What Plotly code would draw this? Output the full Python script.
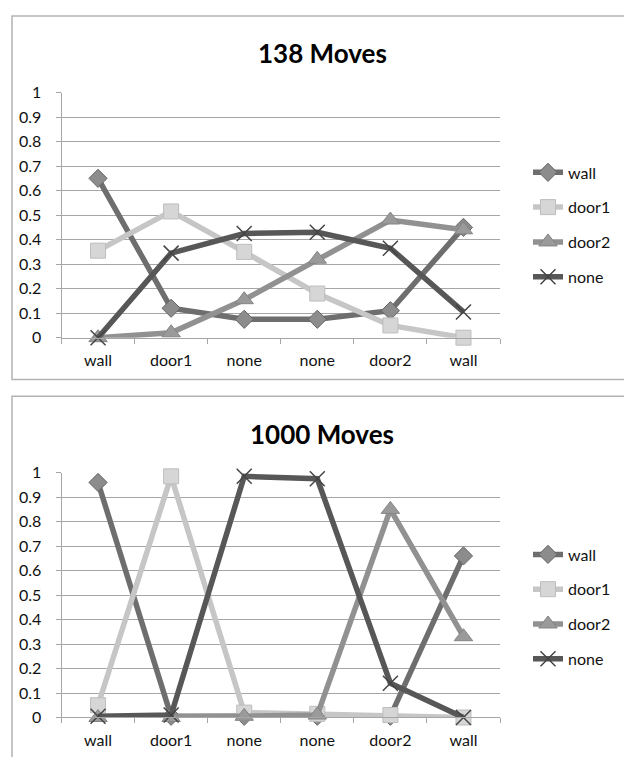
import plotly.graph_objects as go

# ---------------- data ----------------
categories = ["wall", "door1", "none", "none", "door2", "wall"]
series_names = ["wall", "door1", "door2", "none"]
y_ticks = [0, 0.1, 0.2, 0.3, 0.4, 0.5, 0.6, 0.7, 0.8, 0.9, 1]
y_tick_labels = ["0", "0.1", "0.2", "0.3", "0.4", "0.5", "0.6", "0.7", "0.8", "0.9", "1"]

title_top = "138 Moves"
wall_138 = [0.65, 0.12, 0.075, 0.075, 0.11, 0.45]
door1_138 = [0.355, 0.515, 0.35, 0.18, 0.05, 0.0]
door2_138 = [0.0, 0.02, 0.155, 0.32, 0.48, 0.44]
none_138 = [0.0, 0.345, 0.425, 0.43, 0.365, 0.105]

title_bottom = "1000 Moves"
wall_1000 = [0.96, 0.005, 0.005, 0.005, 0.005, 0.66]
door1_1000 = [0.05, 0.985, 0.02, 0.015, 0.01, 0.0]
door2_1000 = [0.0, 0.0, 0.005, 0.01, 0.85, 0.33]
none_1000 = [0.005, 0.01, 0.985, 0.975, 0.14, 0.0]

# ---------------- geometry / styles ----------------
PAGE_W, PAGE_H = 632, 765
BODY_MARGIN = 8                     # default browser body margin
W, H = PAGE_W - 2 * BODY_MARGIN, PAGE_H - 2 * BODY_MARGIN
FONT = "Lato, 'Open Sans', sans-serif"
GRID = "#a6a6a6"

styles = {
    "wall": dict(line=dict(color="#6e6e6e", width=5.5),
                 marker=dict(symbol="diamond", size=14, color="#8c8c8c",
                             line=dict(color="#656565", width=1))),
    "door1": dict(line=dict(color="#c6c6c6", width=5.5),
                  marker=dict(symbol="square", size=15, color="#d6d6d6",
                              line=dict(color="#bdbdbd", width=1))),
    "door2": dict(line=dict(color="#919191", width=5.5),
                  marker=dict(symbol="triangle-up", size=16, color="#9a9a9a",
                              line=dict(color="#858585", width=1))),
    "none": dict(line=dict(color="#575757", width=5.5),
                 marker=dict(symbol="x-thin", size=15, color="#444444",
                             line=dict(color="#444444", width=1.5))),
}

x_idx = list(range(len(categories)))


def px_x(p):  # page pixel -> paper fraction
    return (p - BODY_MARGIN) / W


def px_y(p):
    return 1 - (p - BODY_MARGIN) / H


fig = go.Figure()

panels = [
    ("x", "y", "legend", [wall_138, door1_138, door2_138, none_138]),
    ("x2", "y2", "legend2", [wall_1000, door1_1000, door2_1000, none_1000]),
]
for xa, ya, leg, vals in panels:
    for name, v in zip(series_names, vals):
        st = styles[name]
        fig.add_trace(go.Scatter(
            x=x_idx, y=v, name=name, mode="lines+markers",
            line=st["line"], marker=st["marker"],
            xaxis=xa, yaxis=ya, legend=leg, legendgroup=leg + name,
            cliponaxis=False, showlegend=True,
        ))

xdom = [px_x(61.5), px_x(500)]
xaxis_common = dict(
    range=[-0.5, len(categories) - 0.5],
    tickvals=x_idx, ticktext=categories, ticks="",
    showgrid=False, zeroline=False,
    showline=True, linecolor=GRID, linewidth=1,
    tickfont=dict(family=FONT, size=16, color="#111111"),
    ticklabelstandoff=8,
    minor=dict(tickvals=[i - 0.5 for i in range(len(categories) + 1)],
               ticks="outside", ticklen=5, tickcolor=GRID, tickwidth=1,
               showgrid=False),
    fixedrange=True,
)
yaxis_common = dict(
    range=[0, 1], tickvals=y_ticks, ticktext=y_tick_labels,
    showgrid=True, gridcolor=GRID, gridwidth=1,
    zeroline=False, showline=True, linecolor=GRID, linewidth=1,
    ticks="outside", ticklen=5, tickcolor=GRID,
    tickfont=dict(family=FONT, size=16, color="#111111"),
    ticklabelstandoff=11,
    fixedrange=True,
)

legend_common = dict(
    font=dict(family=FONT, size=16, color="#111111"),
    bgcolor="rgba(0,0,0,0)", tracegroupgap=11,
    itemwidth=30, xanchor="left", yanchor="top",
)

fig.update_layout(
    width=W, height=H,
    margin=dict(l=0, r=0, t=0, b=0),
    paper_bgcolor="white", plot_bgcolor="white",
    xaxis=dict(domain=xdom, anchor="y", **xaxis_common),
    yaxis=dict(domain=[px_y(336), px_y(84.5)], anchor="x", **yaxis_common),
    xaxis2=dict(domain=xdom, anchor="y2", **xaxis_common),
    yaxis2=dict(domain=[px_y(725.7), px_y(474.5)], anchor="x2", **yaxis_common),
    legend=dict(x=px_x(528), y=px_y(149), **legend_common),
    legend2=dict(x=px_x(528), y=px_y(541), **legend_common),
    showlegend=True,
    annotations=[
        dict(text="<b>" + title_top + "</b>", x=px_x(322), y=px_y(44),
             xref="paper", yref="paper", showarrow=False,
             xanchor="center", yanchor="middle",
             font=dict(family=FONT, size=26, color="#000000")),
        dict(text="<b>" + title_bottom + "</b>", x=px_x(322), y=px_y(435),
             xref="paper", yref="paper", showarrow=False,
             xanchor="center", yanchor="middle",
             font=dict(family=FONT, size=26, color="#000000")),
    ],
    shapes=[
        dict(type="rect", xref="paper", yref="paper",
             x0=px_x(12), x1=px_x(660), y0=px_y(379), y1=px_y(6),
             line=dict(color="#b3b3b3", width=1.5), layer="below"),
        dict(type="rect", xref="paper", yref="paper",
             x0=px_x(12), x1=px_x(660), y0=px_y(800), y1=px_y(396),
             line=dict(color="#b3b3b3", width=1.5), layer="below"),
    ],
)

fig.write_html("out.html")
